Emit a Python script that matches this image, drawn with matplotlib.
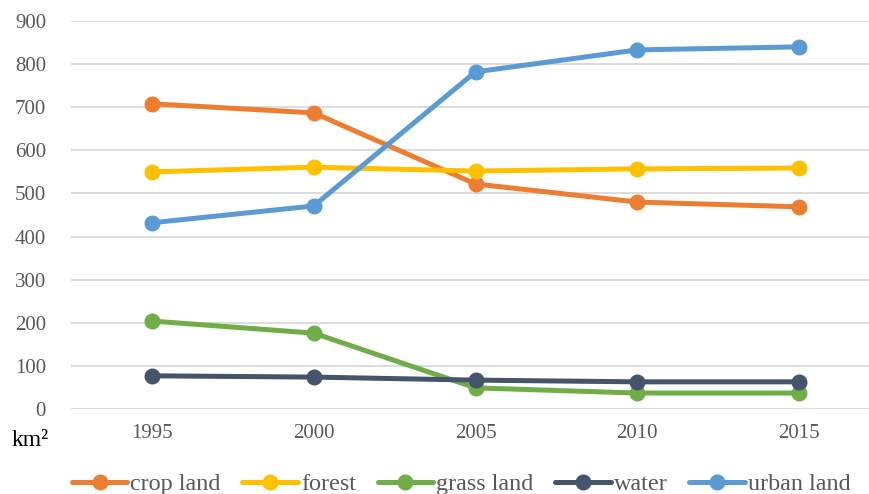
import matplotlib
matplotlib.use("Agg")
import matplotlib.pyplot as plt
import numpy as np

years = ["1995", "2000", "2005", "2010", "2015"]
crop_land = [708, 687, 522, 480, 469]
forest = [550, 561, 552, 557, 559]
grass_land = [204, 176, 49, 37, 37]
water = [77, 74, 67, 63, 63]
urban_land = [432, 471, 782, 833, 840]

series = [
    ("crop land", crop_land, "#ED7D31"),
    ("forest", forest, "#FFC000"),
    ("grass land", grass_land, "#70AD47"),
    ("water", water, "#44546A"),
    ("urban land", urban_land, "#5B9BD5"),
]

plt.rcParams['font.family'] = ['Liberation Serif', 'DejaVu Serif']

fig = plt.figure(figsize=(8.69, 4.94), dpi=100)
ax = fig.add_axes([71/869, 1 - 409/494, (880-71)/869, (409-21)/494])

x = np.arange(len(years))
for name, vals, col in series:
    ax.plot(x, vals, color=col, lw=3.6, marker='o', markersize=10.5,
            label=name, solid_capstyle='round', zorder=3)

ax.set_xlim(-0.5, len(years) - 0.5)
ax.set_ylim(0, 900)
ax.set_yticks(range(0, 901, 100))
ax.set_xticks(x)
ax.set_xticklabels(years)
ax.grid(axis='y', color='#D9D9D9', lw=1.3, zorder=0)
ax.set_axisbelow(True)
for s in ax.spines.values():
    s.set_visible(False)
ax.tick_params(axis='both', length=0, labelsize=15, labelcolor='#595959')
ax.tick_params(axis='x', pad=11)
ax.tick_params(axis='y', pad=18)

fig.text(12/869, 1 - 440/494, "km²", fontsize=17, color='black', va='center', ha='left')

leg = fig.legend(loc='center', bbox_to_anchor=(461/869, 1 - 484/494), ncol=5, frameon=False,
                 fontsize=17.4, handlelength=2.3, columnspacing=0.9, handletextpad=0.12,
                 labelcolor='#595959')

fig.savefig("out.png", dpi=100)
